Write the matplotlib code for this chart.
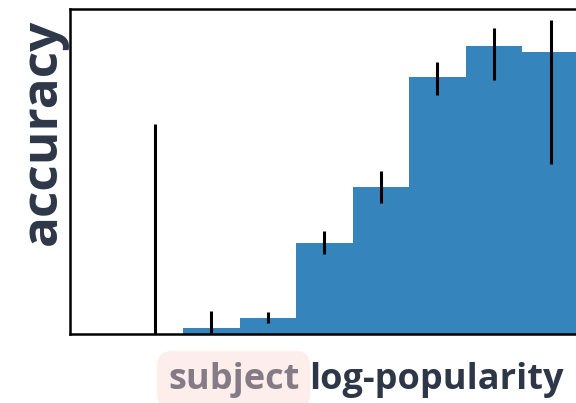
import numpy as np
import matplotlib
matplotlib.use("Agg")
import matplotlib.pyplot as plt

# accuracy per popularity bin, with CI bounds
bins = [0, 1, 2, 3, 4, 5, 6, 7]
accuracy = [0.0, 0.011, 0.029, 0.168, 0.271, 0.475, 0.532, 0.520]
ci_low = [0.0, 0.002, 0.020, 0.148, 0.242, 0.441, 0.469, 0.314]
ci_high = [0.388, 0.042, 0.041, 0.190, 0.301, 0.502, 0.565, 0.580]

text_color = "#2d3748"
bar_color = "#3584bc"

plt.rcParams["font.family"] = ["Open Sans", "DejaVu Sans"]

fig = plt.figure(figsize=(5.76, 4.03), dpi=100)
ax = fig.add_axes([70 / 576, 69 / 403, 506 / 576, 325 / 403])

acc = np.array(accuracy)
yerr = [acc - np.array(ci_low), np.array(ci_high) - acc]
ax.bar(bins, acc, width=1.0, color=bar_color, linewidth=0)
ax.errorbar(bins, acc, yerr=yerr, fmt="none", ecolor="black", elinewidth=2.2, capsize=0)

ax.set_xlim(-1.5, 7.45)
ax.set_ylim(0, 0.6)
ax.set_xticks([])
ax.set_yticks([])
ax.spines["right"].set_visible(False)
for side in ["left", "top", "bottom"]:
    ax.spines[side].set_linewidth(1.8)

fig.text(0.075, 1 - 132 / 403, "accuracy", rotation=90, ha="center", va="center",
         fontsize=37, fontweight="bold", color=text_color)

subj = fig.text(168 / 576, 14 / 403, "subject", ha="left", va="baseline",
                fontsize=26, fontweight="bold", color="#857b86",
                bbox=dict(boxstyle="round,pad=0.3,rounding_size=0.4", fc="#fdedeb", ec="none"))
ax.annotate("log-popularity", xy=(1, 0), xycoords=subj, xytext=(7, 0),
            textcoords="offset points", ha="left", va="bottom",
            fontsize=26, fontweight="bold", color=text_color, annotation_clip=False)

fig.savefig("out.png", dpi=100)
